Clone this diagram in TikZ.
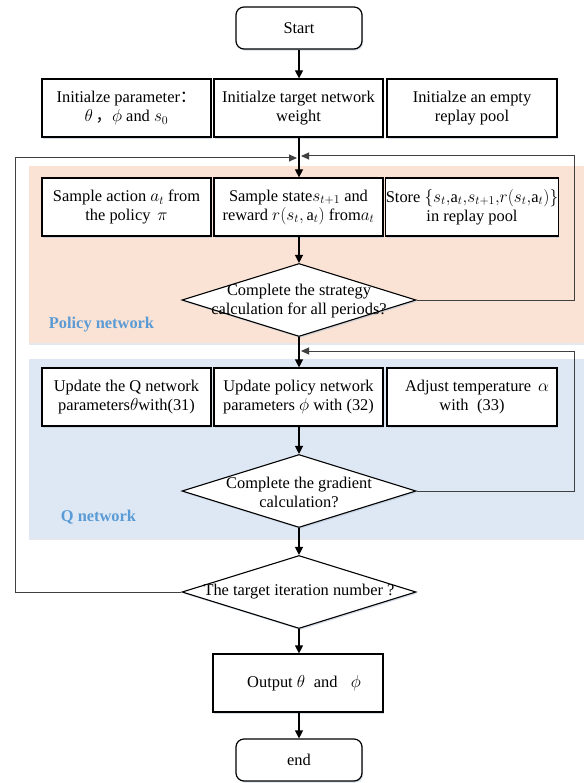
\documentclass[tikz,border=0pt]{standalone}
\usepackage{fontspec}
\setmainfont{Liberation Serif}
\newfontfamily\cjk{Noto Sans CJK SC}
\usetikzlibrary{shapes.geometric,arrows.meta,shadows}
\definecolor{peach}{HTML}{FAE3D4}
\definecolor{qblue}{HTML}{DDE8F4}
\definecolor{lblue}{HTML}{5B9BD5}
\definecolor{shad}{HTML}{B8C6D8}
\begin{document}
\begin{tikzpicture}[x=1pt,y=-1pt,
  every node/.style={font=\fontsize{16.4}{19}\selectfont},
  sh/.style={drop shadow={shadow xshift=1.2pt,shadow yshift=-1.6pt,fill=shad,opacity=0.6}},
  box/.style={draw=black,line width=1.2pt,fill=white,inner sep=0pt,align=center,
    minimum height=58pt,sh},
  term/.style={box,rounded corners=8pt,minimum width=126pt,minimum height=42pt},
  dia/.style={draw=black,line width=1.1pt,fill=white,shape=diamond,inner sep=0pt,
    minimum width=234pt,minimum height=73pt,sh},
  dtext/.style={align=center,inner sep=0pt},
  lab/.style={font=\fontsize{16.4}{19}\selectfont\bfseries,text=lblue,inner sep=0pt},
  arr/.style={draw=black,line width=1.2pt,-{Triangle[length=8pt,width=8pt]}},
  lp/.style={draw=black!75,line width=1pt,-{Triangle[length=8pt,width=7pt]}}
]
\useasboundingbox (0,0) rectangle (584,783);
% backgrounds
\fill[peach,drop shadow={shadow xshift=0pt,shadow yshift=-1.5pt,fill=shad,opacity=0.4}] (29,166) rectangle (584,343);
\fill[qblue,drop shadow={shadow xshift=0pt,shadow yshift=-1.5pt,fill=shad,opacity=0.4}] (29,359) rectangle (584,538);
\node[lab] (pl) at (101.5,325) {Policy network};
\node[lab] (ql) at (98.5,517) {Q network};

% nodes
\node[term] (start) at (299,28) {Start};
\node[box,minimum width=169pt] (i1) at (126.5,108) {Initialze parameter{\cjk ：}\\$\theta$\,{\cjk ，}$\phi$ and $s_0$};
\node[box,minimum width=169pt] (i2) at (298.5,108) {Initialze target network\\weight};
\node[box,minimum width=170pt] (i3) at (472,108) {Initialze an empty\\replay pool};

\node[box,minimum width=169pt] (s1) at (126.5,207) {Sample action $a_t$ from\\the policy\, $\pi$};
\node[box,minimum width=169pt] (s2) at (298.5,207) {Sample state$s_{t+1}$ and\\reward $r\big(s_t,\mathrm{a}_t\big)$ from$a_t$};
\node[box,minimum width=170pt] (s3) at (472,207) {Store $\big\{s_t{,}\mathrm{a}_t{,}s_{t+1}{,}r\big(s_t{,}\mathrm{a}_t\big)\big\}$\\in replay pool};

\node[dia] (d1) at (299,300) {};
\node[dtext] (d1t) at (299,301) {Complete the strategy\\calculation for all periods?};

\node[box,minimum width=169pt] (q1) at (126.5,397) {Update the Q network\\parameters$\theta$with(31)};
\node[box,minimum width=169pt] (q2) at (298.5,397) {Update policy network\\parameters $\phi$ with (32)};
\node[box,minimum width=170pt] (q3) at (472,397) {\hspace*{10pt}Adjust temperature\, $\alpha$\\with\; (33)};

\node[dia] (d2) at (299,491) {};
\node[dtext] (d2t) at (299,492) {Complete the gradient\\calculation?};

\node[dia] (d3) at (299,592) {};
\node[dtext] (d3t) at (299,592) {The target iteration number ?};

\node[box,minimum width=170pt] (out) at (298,683) {\hspace*{12pt}Output $\theta$\; and\;\; $\phi$};
\node[term] (end) at (299,760) {end};

% merge points
\coordinate (m1l) at (297,158);
\coordinate (m1r) at (301,156);
\coordinate (m2r) at (301,351);

% main flow
\draw[arr] (start) -- (start|-i2.north);
\draw[arr] (i2.south-|start) -- (s2.north-|start);
\draw[arr] (s2.south-|start) -- (d1.north);
\draw[arr] (d1.south) -- (q2.north-|d1);
\draw[arr] (q2.south-|d2) -- (d2.north);
\draw[arr] (d2.south) -- (d3.north);
\draw[arr] (d3.south) -- (out.north-|d3);
\draw[arr] (out.south-|end) -- (end.north);

% loops
\draw[lp] (d3.west) -- (15.5,592) |- (m1l);
\draw[lp] (d1.east) -- (574,300) |- (m1r);
\draw[lp] (d2.east) -- (574,491) |- (m2r);
\end{tikzpicture}
\end{document}
